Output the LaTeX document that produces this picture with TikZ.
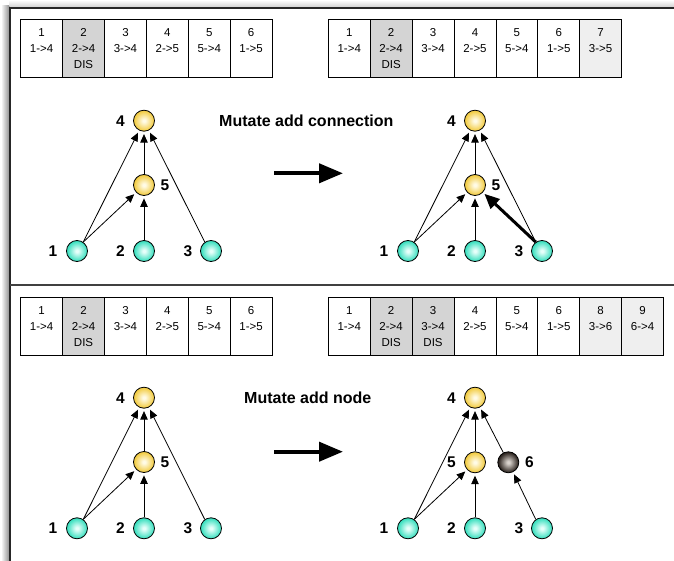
\documentclass[tikz,border=0pt]{standalone}
\usepackage{fontspec}
\setmainfont{Liberation Sans}
\usetikzlibrary{arrows.meta}
\definecolor{dis}{HTML}{D4D4D4}
\definecolor{newg}{HTML}{EFEFEF}
\definecolor{yout}{HTML}{F2CB40}
\definecolor{yin}{HTML}{FFFBE6}
\definecolor{cout}{HTML}{38DFBE}
\definecolor{cin}{HTML}{E6FFFA}
\definecolor{dout}{HTML}{2A221D}
\definecolor{din}{HTML}{D8D2CC}
\pgfdeclareradialshading{yball}{\pgfpoint{0bp}{0bp}}{color(0bp)=(yin); color(3bp)=(yin); color(24bp)=(yout); color(50bp)=(yout)}
\pgfdeclareradialshading{cball}{\pgfpoint{0bp}{0bp}}{color(0bp)=(cin); color(3bp)=(cin); color(24bp)=(cout); color(50bp)=(cout)}
\pgfdeclareradialshading{dball}{\pgfpoint{0bp}{0bp}}{color(0bp)=(din); color(3bp)=(din); color(24bp)=(dout); color(50bp)=(dout)}
\tikzset{
  cellbox/.style={draw, line width=0.8pt, minimum width=41.9pt, minimum height=57.7pt, inner sep=0pt, outer sep=0pt, anchor=north west},
  celltxt/.style={inner sep=0pt, anchor=base, font=\fontsize{11.5pt}{13pt}\selectfont},
  neur/.style={circle, draw, line width=0.8pt, minimum size=21pt, inner sep=0pt},
  ynode/.style={neur, shading=yball},
  cnode/.style={neur, shading=cball},
  dnode/.style={neur, shading=dball},
  lbl/.style={inner sep=0pt, anchor=base, font=\fontsize{15.5pt}{17pt}\selectfont\bfseries},
  ttl/.style={inner sep=0pt, anchor=base west, font=\fontsize{16pt}{18pt}\selectfont\bfseries},
  edge/.style={line width=0.8pt, -{Triangle[length=8.5pt,width=7.5pt]}, shorten >=2.5pt},
  thickedge/.style={line width=3pt, -{Triangle[length=15pt,width=13pt]}, shorten >=2pt},
  bigarrow/.style={line width=4pt, -{Triangle[length=24pt,width=19pt]}},
}
\newcommand{\gcell}[7]{%
  \node[cellbox, fill=#4] (#1) at (#2,#3) {};
  \node[celltxt] (#1n) at ([yshift=-17.1pt]#1.north) {#5};
  \node[celltxt] (#1c) at ([yshift=-33.1pt]#1.north) {#6};
  \node[celltxt] (#1d) at ([yshift=-49.1pt]#1.north) {#7};
}
\begin{document}
\begin{tikzpicture}[x=1pt, y=-1pt]
\useasboundingbox (0,0) rectangle (674,561);
% frame shadow
\shade[left color=white, right color=black!45] (1,6) rectangle (9.5,561);
\shade[top color=white, bottom color=black!18] (9.5,0) rectangle (674,7);
\draw[line width=1.7pt, black!85] (10,561) -- (10,7.7) -- (674,7.7);
\draw[line width=2pt, black!75] (10,284.7) -- (674,284.7);

% ---------- top-left genome
\gcell{ta1}{20.7}{19.3}{white}{1}{1->4}{}
\gcell{ta2}{62.6}{19.3}{dis}{2}{2->4}{DIS}
\gcell{ta3}{104.5}{19.3}{white}{3}{3->4}{}
\gcell{ta4}{146.4}{19.3}{white}{4}{2->5}{}
\gcell{ta5}{188.3}{19.3}{white}{5}{5->4}{}
\gcell{ta6}{230.2}{19.3}{white}{6}{1->5}{}
% ---------- top-right genome
\gcell{tb1}{328.3}{19.3}{white}{1}{1->4}{}
\gcell{tb2}{370.2}{19.3}{dis}{2}{2->4}{DIS}
\gcell{tb3}{412.1}{19.3}{white}{3}{3->4}{}
\gcell{tb4}{454.0}{19.3}{white}{4}{2->5}{}
\gcell{tb5}{495.9}{19.3}{white}{5}{5->4}{}
\gcell{tb6}{537.8}{19.3}{white}{6}{1->5}{}
\gcell{tb7}{579.7}{19.3}{newg}{7}{3->5}{}
% ---------- bottom-left genome
\gcell{bc1}{20.7}{297.3}{white}{1}{1->4}{}
\gcell{bc2}{62.6}{297.3}{dis}{2}{2->4}{DIS}
\gcell{bc3}{104.5}{297.3}{white}{3}{3->4}{}
\gcell{bc4}{146.4}{297.3}{white}{4}{2->5}{}
\gcell{bc5}{188.3}{297.3}{white}{5}{5->4}{}
\gcell{bc6}{230.2}{297.3}{white}{6}{1->5}{}
% ---------- bottom-right genome
\gcell{bd1}{328.3}{297.3}{white}{1}{1->4}{}
\gcell{bd2}{370.2}{297.3}{dis}{2}{2->4}{DIS}
\gcell{bd3}{412.1}{297.3}{dis}{3}{3->4}{DIS}
\gcell{bd4}{454.0}{297.3}{white}{4}{2->5}{}
\gcell{bd5}{495.9}{297.3}{white}{5}{5->4}{}
\gcell{bd6}{537.8}{297.3}{white}{6}{1->5}{}
\gcell{bd7}{579.7}{297.3}{newg}{8}{3->6}{}
\gcell{bd8}{621.6}{297.3}{newg}{9}{6->4}{}

% ---------- top-left network
\node[ynode] (a4) at (144,120.7) {};
\node[ynode] (a5) at (144,185) {};
\node[cnode] (a1) at (77,251) {};
\node[cnode] (a2) at (144,251) {};
\node[cnode] (a3) at (211,251) {};
\node[lbl] (la4) at (120.5,126.3) {4};
\node[lbl] (la5) at (165,190.6) {5};
\node[lbl] (la1) at (53,256.6) {1};
\node[lbl] (la2) at (120.5,256.6) {2};
\node[lbl] (la3) at (188,256.6) {3};
\draw[edge] (a1.55) -- (a4);
\draw[edge] (a1.55) -- (a5);
\draw[edge] (a2) -- (a5);
\draw[edge] (a5) -- (a4);
\draw[edge] (a3.125) -- (a4);

\node[ttl] (t1) at (219,126.4) {Mutate add connection};
\coordinate (ba1s) at (274,173.3);
\coordinate (ba1e) at (343,173.3);
\draw[bigarrow] (ba1s) -- (ba1e);

% ---------- top-right network
\node[ynode] (b4) at (475,120.7) {};
\node[ynode] (b5) at (475,185) {};
\node[cnode] (b1) at (408,251) {};
\node[cnode] (b2) at (475,251) {};
\node[cnode] (b3) at (542,251) {};
\node[lbl] (lb4) at (451.5,126.3) {4};
\node[lbl] (lb5) at (496,190.6) {5};
\node[lbl] (lb1) at (384,256.6) {1};
\node[lbl] (lb2) at (451.5,256.6) {2};
\node[lbl] (lb3) at (519,256.6) {3};
\draw[edge] (b1.55) -- (b4);
\draw[edge] (b1.55) -- (b5);
\draw[edge] (b2) -- (b5);
\draw[edge] (b5) -- (b4);
\draw[edge] (b3.125) -- (b4);
\draw[thickedge] (b3.125) -- (b5);

% ---------- bottom-left network
\node[ynode] (c4) at (144,397.7) {};
\node[ynode] (c5) at (144,462) {};
\node[cnode] (c1) at (77,528.3) {};
\node[cnode] (c2) at (144,528.3) {};
\node[cnode] (c3) at (211,528.3) {};
\node[lbl] (lc4) at (120.5,403.3) {4};
\node[lbl] (lc5) at (165,467.6) {5};
\node[lbl] (lc1) at (53,533.9) {1};
\node[lbl] (lc2) at (120.5,533.9) {2};
\node[lbl] (lc3) at (188,533.9) {3};
\draw[edge] (c1.55) -- (c4);
\draw[edge] (c1.55) -- (c5);
\draw[edge] (c2) -- (c5);
\draw[edge] (c5) -- (c4);
\draw[edge] (c3.125) -- (c4);

\node[ttl] (t2) at (244,403.4) {Mutate add node};
\coordinate (ba2s) at (274,451.7);
\coordinate (ba2e) at (343,451.7);
\draw[bigarrow] (ba2s) -- (ba2e);

% ---------- bottom-right network
\node[ynode] (d4) at (475,397.7) {};
\node[ynode] (d5) at (475,462.3) {};
\node[dnode] (d6) at (508.3,462.3) {};
\node[cnode] (d1) at (408,528.3) {};
\node[cnode] (d2) at (475,528.3) {};
\node[cnode] (d3) at (542,528.3) {};
\node[lbl] (ld4) at (451.5,403.3) {4};
\node[lbl] (ld5) at (451.5,467.9) {5};
\node[lbl] (ld6) at (529.5,467.9) {6};
\node[lbl] (ld1) at (384,533.9) {1};
\node[lbl] (ld2) at (451.5,533.9) {2};
\node[lbl] (ld3) at (519,533.9) {3};
\draw[edge] (d1.55) -- (d4);
\draw[edge] (d1.55) -- (d5);
\draw[edge] (d2) -- (d5);
\draw[edge] (d5) -- (d4);
\draw[edge] (d6) -- (d4);
\draw[edge] (d3.125) -- (d6);
\end{tikzpicture}
\end{document}
